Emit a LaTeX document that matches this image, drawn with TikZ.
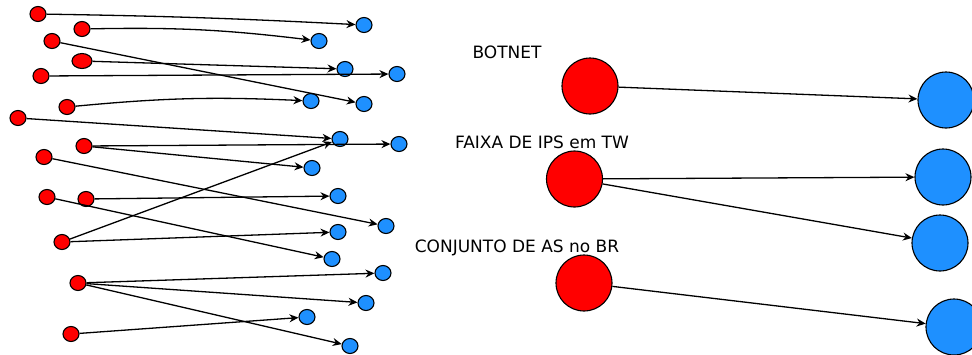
\documentclass[tikz,border=0pt]{standalone}
\usepackage{fontspec}
\setmainfont{DejaVu Sans}
\usepackage{xcolor}
\usetikzlibrary{shapes.geometric, arrows.meta}

\definecolor{azul}{RGB}{30,144,255}

\begin{document}
\begin{tikzpicture}[x=1pt, y=-1pt,
		origem/.style = {ellipse, draw, line width=1.1pt, fill=red, inner sep=0pt, minimum width=16pt, minimum height=15pt},
		destino/.style = {origem, fill=azul},
		grande/.style = {circle, minimum size=56pt},
		seta/.style = {-{Stealth[length=9pt, width=8pt]}, line width=1.3pt},
		rotulo/.style = {anchor=base, inner sep=0pt, font=\fontsize{17}{20}\selectfont}]
			
			\useasboundingbox (0,0) rectangle (972,354);
			
			% nos pequenos
			\foreach \n/\x/\y in {1/38/14, 2/82/29, 3/52/41, 5/41/76, 6/67/107, 7/18/118, 8/84/146, 9/44/157, 10/47/197, 11/86/199, 12/62/242, 13/78/283, 14/71/334}
				\node[origem] (src \n) at (\x,\y) {};
			\node[origem, minimum width=20pt] (src 4) at (82,61) {};
			
			\foreach \n/\x/\y in {1/364/25, 2/319/41, 3/345/69, 4/397/74, 5/364/104, 6/311/101, 7/340/139, 8/399/144, 9/312/168, 10/338/196, 11/386/226, 12/338/232, 13/332/259, 14/383/273, 15/366/303, 16/307/317, 17/350/346}
				\node[destino] (dst \n) at (\x,\y) {};
			
			\draw[seta] (src 1) to[bend left=1] (dst 1);
			\draw[seta] (src 2) to[bend left=4] (dst 2);
			\draw[seta] (src 6) to[bend left=4] (dst 6);
			\foreach \a/\b in {3/5, 4/3, 5/4, 7/7, 8/8, 8/9, 9/11, 10/13, 11/10, 12/7, 12/12, 13/14, 13/15, 13/17, 14/16}
				\draw[seta] (src \a) -- (dst \b);
			
			% nos grandes
			\node[rotulo] (botnet label) at (507,58) {BOTNET};
			\node[rotulo] (faixa label) at (542,148) {FAIXA DE IPS em TW};
			\node[rotulo] (conjunto label) at (517,252) {CONJUNTO DE AS no BR};
			
			\node[origem, grande] (botnet) at (590,86) {};
			\node[origem, grande] (faixa) at (574.5,179) {};
			\node[origem, grande] (conjunto) at (584,283) {};
			
			\node[destino, grande] (alvo a) at (946,100) {};
			\node[destino, grande] (alvo b) at (943,177) {};
			\node[destino, grande] (alvo c) at (940,243) {};
			\node[destino, grande] (alvo d) at (954,327) {};
			
			\draw[seta] (botnet) -- (alvo a);
			\draw[seta] (faixa) -- (alvo b);
			\draw[seta] (faixa) -- (alvo c);
			\draw[seta] (conjunto) -- (alvo d);
		\end{tikzpicture}
\end{document}
